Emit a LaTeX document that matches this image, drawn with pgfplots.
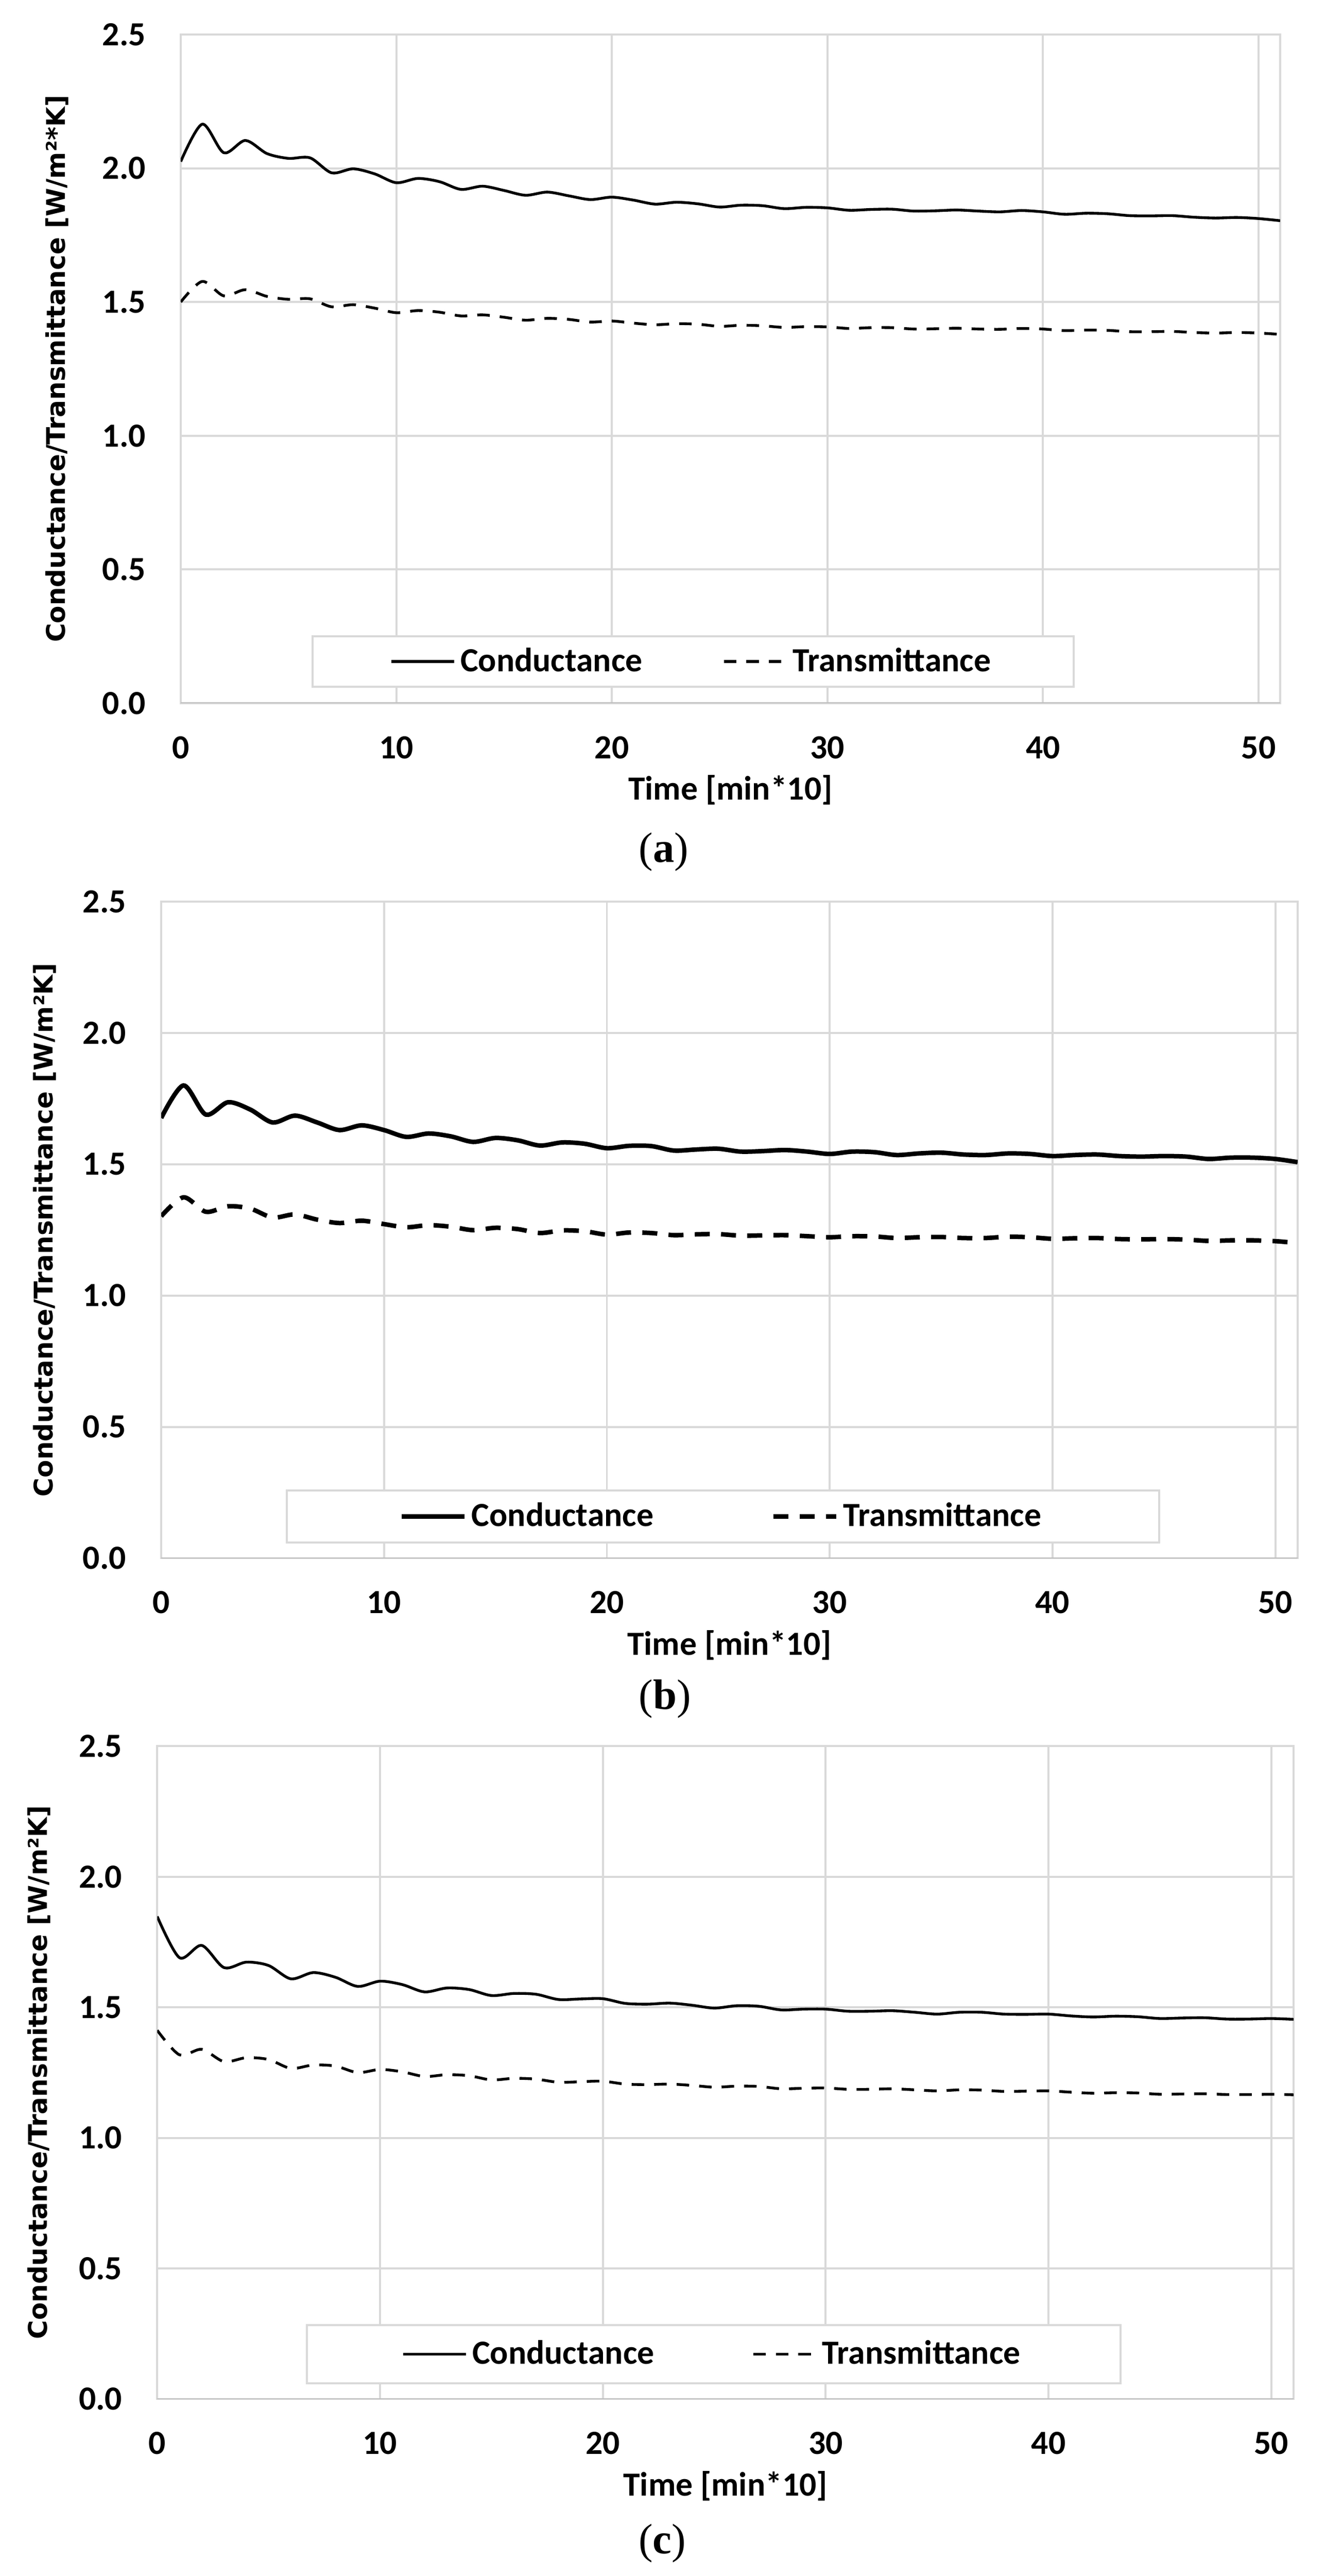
\documentclass[border=0pt]{standalone}
\usepackage{fontspec}
\setmainfont{Carlito}
\newfontfamily\ylabfont{DejaVu Sans}
\newfontfamily\capfont{Liberation Serif}
\usepackage{pgfplots}
\usepackage{pgfplotstable}
\pgfplotsset{compat=1.18}
\definecolor{gridc}{HTML}{D9D9D9}
\definecolor{axisc}{HTML}{BFBFBF}

\pgfplotstableread{
x c t
0 2.025 1.500
1 2.165 1.577
2 2.058 1.523
3 2.104 1.546
4 2.055 1.521
5 2.037 1.510
6 2.039 1.512
7 1.983 1.482
8 1.998 1.490
9 1.979 1.477
10 1.946 1.460
11 1.962 1.468
12 1.950 1.462
13 1.921 1.448
14 1.933 1.452
15 1.917 1.443
16 1.899 1.432
17 1.911 1.439
18 1.897 1.435
19 1.883 1.425
20 1.892 1.429
21 1.881 1.421
22 1.866 1.415
23 1.873 1.419
24 1.867 1.417
25 1.855 1.409
26 1.862 1.413
27 1.860 1.411
28 1.849 1.405
29 1.854 1.408
30 1.852 1.407
31 1.843 1.401
32 1.846 1.404
33 1.847 1.404
34 1.840 1.399
35 1.841 1.400
36 1.844 1.402
37 1.840 1.399
38 1.837 1.398
39 1.842 1.401
40 1.837 1.399
41 1.828 1.393
42 1.832 1.395
43 1.830 1.394
44 1.823 1.389
45 1.822 1.389
46 1.823 1.390
47 1.817 1.386
48 1.814 1.384
49 1.816 1.386
50 1.812 1.384
51 1.804 1.379
}\dataA

\pgfplotstableread{
x c t
0 1.676 1.302
1 1.800 1.374
2 1.689 1.319
3 1.736 1.340
4 1.708 1.331
5 1.659 1.297
6 1.685 1.309
7 1.659 1.289
8 1.630 1.276
9 1.648 1.285
10 1.630 1.272
11 1.604 1.260
12 1.617 1.268
13 1.606 1.262
14 1.585 1.249
15 1.600 1.258
16 1.591 1.253
17 1.571 1.238
18 1.583 1.248
19 1.578 1.245
20 1.561 1.232
21 1.570 1.240
22 1.569 1.238
23 1.552 1.230
24 1.556 1.233
25 1.559 1.234
26 1.548 1.228
27 1.550 1.229
28 1.554 1.230
29 1.548 1.226
30 1.539 1.222
31 1.548 1.226
32 1.546 1.225
33 1.535 1.219
34 1.541 1.222
35 1.544 1.223
36 1.537 1.219
37 1.535 1.219
38 1.541 1.224
39 1.539 1.222
40 1.531 1.216
41 1.535 1.218
42 1.537 1.219
43 1.531 1.215
44 1.529 1.214
45 1.531 1.215
46 1.529 1.213
47 1.520 1.208
48 1.525 1.210
49 1.525 1.210
50 1.520 1.207
51 1.508 1.200
}\dataB

\pgfplotstableread{
x c t
0 1.848 1.412
1 1.690 1.318
2 1.737 1.339
3 1.652 1.292
4 1.673 1.307
5 1.660 1.300
6 1.609 1.266
7 1.633 1.279
8 1.615 1.275
9 1.580 1.250
10 1.600 1.262
11 1.587 1.253
12 1.559 1.235
13 1.574 1.242
14 1.568 1.238
15 1.545 1.222
16 1.553 1.228
17 1.550 1.225
18 1.530 1.213
19 1.532 1.215
20 1.533 1.217
21 1.515 1.206
22 1.512 1.204
23 1.516 1.206
24 1.508 1.201
25 1.497 1.194
26 1.506 1.198
27 1.504 1.197
28 1.490 1.188
29 1.493 1.190
30 1.493 1.191
31 1.485 1.186
32 1.485 1.186
33 1.487 1.188
34 1.481 1.184
35 1.474 1.180
36 1.481 1.184
37 1.481 1.183
38 1.474 1.178
39 1.473 1.179
40 1.474 1.180
41 1.467 1.175
42 1.463 1.171
43 1.466 1.173
44 1.464 1.172
45 1.457 1.167
46 1.459 1.168
47 1.460 1.169
48 1.455 1.166
49 1.455 1.166
50 1.457 1.167
51 1.454 1.165
}\dataC

\newcommand{\lblfont}{\bfseries\fontsize{13.5}{16}\selectfont}

\pgfplotsset{
  panel/.style={
    scale only axis,
    anchor=south west,
    xmin=0, xmax=51, ymin=0, ymax=2.5,
    xtick={0,10,20,30,40,50},
    ytick={0,0.5,1,1.5,2,2.5},
    yticklabels={0.0,0.5,1.0,1.5,2.0,2.5},
    grid=major,
    major grid style={draw=gridc, line width=0.8pt},
    axis line style={draw=gridc, line width=0.8pt},
    major tick length=0pt,
    tick style={draw=none},
    /pgf/number format/assume math mode=true,
    ticklabel style={font=\lblfont, inner sep=0pt},
    xticklabel style={anchor=north, yshift=-13pt},
    yticklabel style={anchor=east, xshift=-13.8pt},
    xlabel={Time [min*10]},
    xlabel style={font=\lblfont, at={(axis description cs:0.5,0)}, anchor=north, yshift=-28.6pt, inner sep=0pt},
    ylabel style={font=\ylabfont\bfseries\fontsize{10.3}{12}\selectfont, anchor=center, inner sep=0pt},
    legend columns=2,
    legend image code/.code={\draw[##1] (0pt,0pt) -- (25pt,0pt);},
    legend style={anchor=south west, draw=gridc, line width=0.8pt, font=\lblfont, nodes={inner sep=2pt}},
  }
}

\begin{document}
\begin{tikzpicture}
\useasboundingbox (0,0) rectangle (529.6pt,1028.6pt);

% Panel (a)
\begin{axis}[panel, at={(72.2pt,747.8pt)}, width=439.2pt, height=267pt,
  ylabel={Conductance/Transmittance [W/m²*K]},
  ylabel style={at={(axis description cs:-0.1125,0.5)}},
  legend style={at={(axis description cs:0.1189,0.0232)}, inner xsep=31pt, inner ysep=2.6pt,
    /tikz/every even column/.append style={column sep=30pt}}]
\draw[axisc, line width=0.8pt] (rel axis cs:0,0) -- (rel axis cs:1,0);
\addplot[black, line width=1.1pt, smooth] table[x=x, y=c] {\dataA};
\addlegendentry{Conductance}
\addplot[black, line width=1.1pt, smooth, dash pattern=on 5pt off 4pt] table[x=x, y=t] {\dataA};
\addlegendentry{Transmittance}
\end{axis}
\node[font=\capfont\fontsize{17}{20}\selectfont] at (265.2pt,688.4pt) {(\textbf{a})};

% Panel (b)
\begin{axis}[panel, at={(64.4pt,406.4pt)}, width=454pt, height=262.2pt,
  ylabel={Conductance/Transmittance [W/m²K]},
  ylabel style={at={(axis description cs:-0.1024,0.5)}},
  legend style={at={(axis description cs:0.1097,0.0224)}, inner xsep=45pt, inner ysep=2.9pt,
    /tikz/every even column/.append style={column sep=45pt}}]
\draw[axisc, line width=0.8pt] (rel axis cs:0,0) -- (rel axis cs:1,0);
\addplot[black, line width=1.8pt, smooth] table[x=x, y=c] {\dataB};
\addlegendentry{Conductance}
\addplot[black, line width=1.8pt, smooth, dash pattern=on 6pt off 4.5pt] table[x=x, y=t] {\dataB};
\addlegendentry{Transmittance}
\end{axis}
\node[font=\capfont\fontsize{17}{20}\selectfont] at (265.6pt,350.2pt) {(\textbf{b})};

% Panel (c)
\begin{axis}[panel, at={(62.8pt,70.66pt)}, width=454pt, height=260.7pt,
  ylabel={Conductance/Transmittance [W/m²K]},
  ylabel style={at={(axis description cs:-0.104,0.5)}},
  legend style={at={(axis description cs:0.1308,0.0228)}, inner xsep=38pt, inner ysep=4.1pt,
    /tikz/every even column/.append style={column sep=37pt}}]
\draw[axisc, line width=0.8pt] (rel axis cs:0,0) -- (rel axis cs:1,0);
\addplot[black, line width=1.1pt, smooth] table[x=x, y=c] {\dataC};
\addlegendentry{Conductance}
\addplot[black, line width=1.1pt, smooth, dash pattern=on 5pt off 4pt] table[x=x, y=t] {\dataC};
\addlegendentry{Transmittance}
\end{axis}
\node[font=\capfont\fontsize{17}{20}\selectfont] at (264.6pt,13pt) {(\textbf{c})};
\end{tikzpicture}
\end{document}
